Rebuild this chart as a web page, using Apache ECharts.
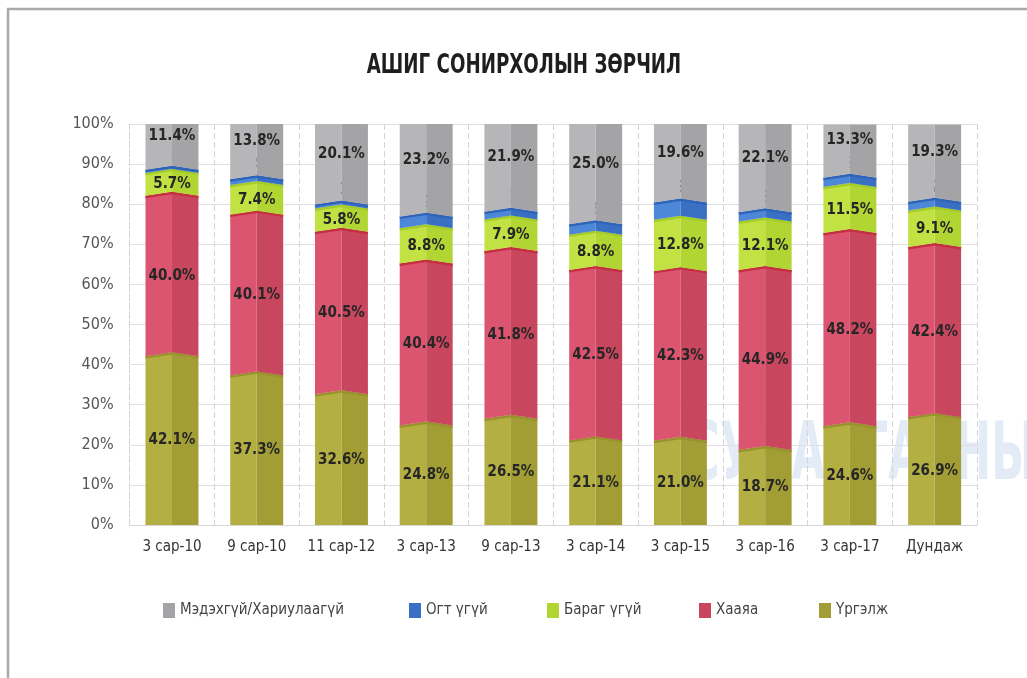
<!DOCTYPE html>
<html>
<head>
<meta charset="utf-8">
<script src="https://cdn.jsdelivr.net/npm/echarts@6/dist/echarts.min.js"></script>
<style>
  html, body { margin: 0; padding: 0; background: #ffffff; }
  #chart { width: 1027px; height: 678px; }
</style>
</head>
<body>
<div id="chart"></div>
<script>
// Survey waves
const categories = ['3 сар-10', '9 сар-10', '11 сар-12', '3 сар-13', '9 сар-13', '3 сар-14', '3 сар-15', '3 сар-16', '3 сар-17', 'Дундаж'];

// Shares per answer (%), bottom to top of each column
const urgelj   = [42.1, 37.3, 32.6, 24.8, 26.5, 21.1, 21.0, 18.7, 24.6, 26.9];
const haaya    = [40.0, 40.1, 40.5, 40.4, 41.8, 42.5, 42.3, 44.9, 48.2, 42.4];
const baragUgui = [5.7, 7.4, 5.8, 8.8, 7.9, 8.8, 12.8, 12.1, 11.5, 9.1];
const ogtUgui  = [0.8, 1.4, 1.0, 2.9, 1.9, 2.6, 4.3, 2.3, 2.3, 2.2];
const medehgui = [11.4, 13.8, 20.1, 23.2, 21.9, 25.0, 19.6, 22.1, 13.3, 19.3];

const yTicks = [0, 10, 20, 30, 40, 50, 60, 70, 80, 90, 100];

const seriesDefs = [
  { name: 'Үргэлж', values: urgelj, light: '#b4af42', dark: '#a29e35', edge: '#98932d' },
  { name: 'Хааяа', values: haaya, light: '#dc5570', dark: '#c9465f', edge: '#c4303f' },
  { name: 'Бараг үгүй', values: baragUgui, light: '#c2e244', dark: '#b1d633', edge: '#a6cc2a' },
  { name: 'Огт үгүй', values: ogtUgui, light: '#4d88d8', dark: '#3a70c4', edge: '#2f64b8' },
  { name: 'Мэдэхгүй/Хариулаагүй', values: medehgui, light: '#b6b6b8', dark: '#a4a4a7', edge: '#a4a4a7' }
];

// Cumulative bounds for stacking
const starts = seriesDefs.map(() => []);
categories.forEach((c, i) => {
  let acc = 0;
  seriesDefs.forEach((s, k) => { starts[k][i] = acc; acc += s.values[i]; });
});

const FONT = '"Liberation Sans Narrow", "DejaVu Sans Condensed", "Roboto Condensed", Arial, sans-serif';
const PEAK = 4;
const BAR_RATIO = 0.625;

function makeRender(k) {
  const s = seriesDefs[k];
  const isTop = k === seriesDefs.length - 1;
  return function (params, api) {
    const ci = api.value(0);
    const lo = api.value(1);
    const hi = api.value(2);
    const val = api.value(3);
    const pBase = api.coord([ci, 0]);
    const xc = pBase[0];
    const half = api.size([1, 0])[0] * BAR_RATIO / 2;
    const xl = xc - half, xr = xc + half;
    const y0 = api.coord([ci, lo])[1];
    const y1 = api.coord([ci, Math.min(hi, 100)])[1];
    const pb = lo > 0 ? PEAK : 0;
    const pt = isTop ? 0 : PEAK;
    const children = [
      { type: 'polygon', shape: { points: [[xl, y0], [xc, y0 - pb], [xc, y1 - pt], [xl, y1]] },
        style: { fill: s.light } },
      { type: 'polygon', shape: { points: [[xc, y0 - pb], [xr, y0], [xr, y1], [xc, y1 - pt]] },
        style: { fill: s.dark } }
    ];
    if (!isTop) {
      children.push({ type: 'polyline', shape: { points: [[xl, y1 + 1.2], [xc, y1 - pt + 1.2], [xr, y1 + 1.2]] },
        style: { stroke: s.edge, lineWidth: 2.5, fill: null } });
    }
    // label placement: centred, the thin band's label sits above it,
    // the top label fills the space left above that one
    let ly = (y0 + y1) / 2;
    const plotTop = api.coord([ci, 100])[1];
    if (k === 3) {
      ly = y1 - 14;
    } else if (k === 4) {
      const blueTop = api.coord([ci, starts[4][ci]])[1];
      ly = (plotTop + (blueTop - 21)) / 2;
    }
    children.push({
      type: 'text',
      style: {
        x: xc, y: ly, text: val.toFixed(1) + '%',
        fill: '#262626', font: 'bold 15px ' + FONT,
        align: 'center', verticalAlign: 'middle'
      }
    });
    return { type: 'group', children: children };
  };
}

const series = seriesDefs.map((s, k) => ({
  name: s.name,
  type: 'custom',
  renderItem: makeRender(k),
  encode: { x: 0, y: [1, 2] },
  itemStyle: { color: s.dark },
  data: categories.map((c, i) => [i, starts[k][i], starts[k][i] + s.values[i], s.values[i]]),
  z: 3
}));

const legendOrder = [
  { name: 'Мэдэхгүй/Хариулаагүй', left: 158 },
  { name: 'Огт үгүй', left: 404 },
  { name: 'Бараг үгүй', left: 542 },
  { name: 'Хааяа', left: 694 },
  { name: 'Үргэлж', left: 814 }
];

const option = {
  backgroundColor: '#ffffff',
  animation: false,
  grid: { left: 129.6, right: 50, top: 124, bottom: 153 },
  legend: legendOrder.map(l => ({
    data: [l.name],
    left: l.left,
    top: 598,
    icon: 'rect',
    itemWidth: 12,
    itemHeight: 15,
    itemGap: 8,
    textStyle: { fontFamily: FONT, fontSize: 15, color: '#444444' }
  })),
  xAxis: {
    type: 'category',
    data: categories,
    axisLine: { show: true, lineStyle: { color: '#d6d6d6' } },
    axisTick: { show: false },
    axisLabel: { interval: 0, fontFamily: FONT, fontSize: 15, color: '#333333', margin: 15 },
    splitLine: { show: true, interval: 0, lineStyle: { color: '#d4d4d4', type: [6, 3] } }
  },
  yAxis: {
    type: 'value',
    min: 0,
    max: 100,
    interval: 10,
    axisLine: { show: true, lineStyle: { color: '#d4d4d4', type: [6, 3] } },
    axisTick: { show: false },
    axisLabel: {
      fontFamily: FONT, fontSize: 16, color: '#555555', margin: 16,
      formatter: v => (yTicks.indexOf(v) >= 0 ? v + '%' : '')
    },
    splitLine: { show: true, lineStyle: { color: '#e0e0e0' } }
  },
  graphic: [
    // heading, narrowed
    { type: 'group', x: 524, y: 66, scaleX: 0.75, silent: true,
      children: [
        { type: 'text', style: { x: 0, y: 0, text: 'АШИГ СОНИРХОЛЫН ЗӨРЧИЛ', font: 'bold 27px ' + FONT,
          fill: '#1e1e1e', align: 'center', verticalAlign: 'middle' } }
      ] },
    // faint logo lettering
    { type: 'group', x: 688, y: 418, scaleX: 0.6, scaleY: 1, z: 10, silent: true,
      children: [
        { type: 'text', style: { x: 0, y: 0, text: 'СУДАЛГААНЫ С', font: 'bold 80px ' + FONT,
          fill: 'rgba(60,110,200,0.14)', verticalAlign: 'top' } }
      ] },
    // frame
    { type: 'line', shape: { x1: 7, y1: 9, x2: 1027, y2: 9 }, style: { stroke: '#a9a9ab', lineWidth: 2.5 } },
    { type: 'line', shape: { x1: 8, y1: 9, x2: 8, y2: 678 }, style: { stroke: '#a9a9ab', lineWidth: 2.5 } }
  ],
  series: series
};

const chart = echarts.init(document.getElementById('chart'), null, { renderer: 'canvas' });
chart.setOption(option);
</script>
</body>
</html>
